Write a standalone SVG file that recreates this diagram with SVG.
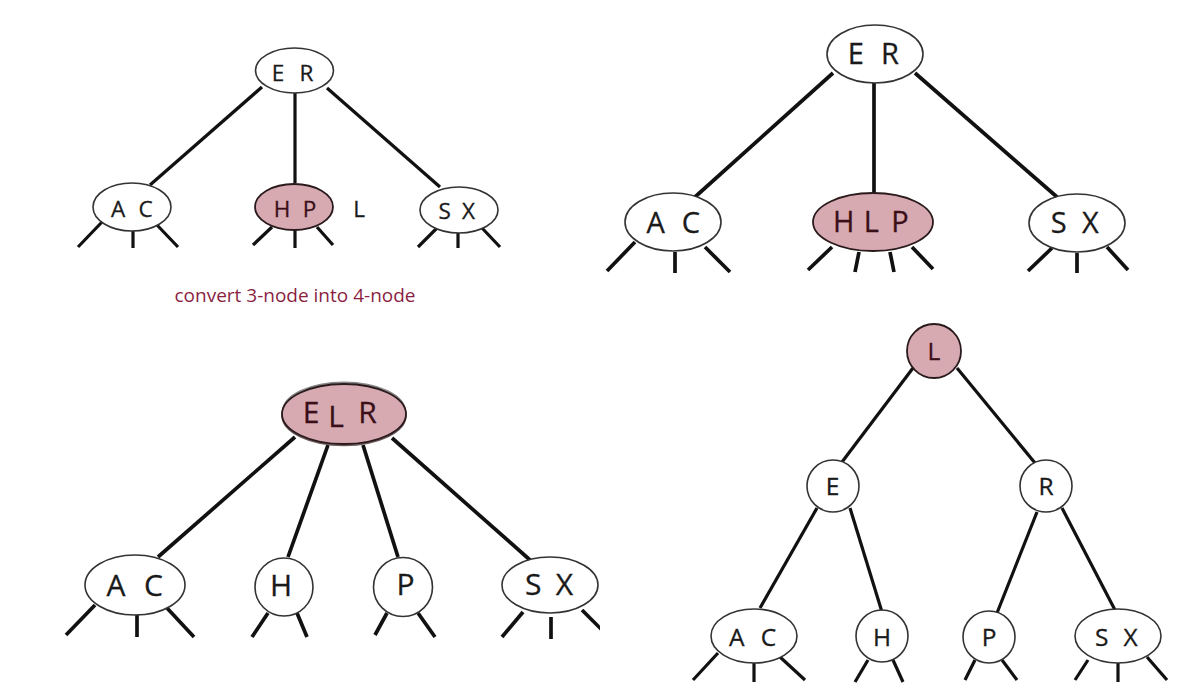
<svg xmlns="http://www.w3.org/2000/svg" width="1200" height="696" viewBox="0 0 1200 696">
<defs>
<style>
.n{fill:#fff;stroke:#333;stroke-width:1.6}
.pk{fill:#d7aab2;stroke:#2a1a1c;stroke-width:1.8}
.e{stroke:#111;stroke-linecap:butt;fill:none}
.w3{stroke-width:3.2}
.w35{stroke-width:3.7}
.t{font-family:"Open Sans","DejaVu Sans",sans-serif;fill:#1a1a1a;text-anchor:middle;stroke:#1a1a1a;stroke-width:0.3}
.tp{fill:#3a0f18;stroke:#3a0f18}
.s1{font-size:22.5px}
.s2{font-size:29px}
.s3{font-size:30px}
.s4{font-size:24.5px}
.cap{font-family:"Open Sans","DejaVu Sans",sans-serif;font-size:19px;fill:#8a1f42;text-anchor:middle}
</style>
<clipPath id="clip3"><rect x="0" y="0" width="600" height="696"/></clipPath>
</defs>
<rect width="1200" height="696" fill="#fff"/>

<g id="connectors" class="e">
  <!-- panel 1 -->
  <g class="w3">
    <line x1="262" y1="87" x2="150" y2="185"/>
    <line x1="295" y1="93" x2="295" y2="183"/>
    <line x1="327" y1="88" x2="440" y2="187"/>
    <line x1="102" y1="222" x2="78" y2="247"/>
    <line x1="133" y1="230" x2="133" y2="248"/>
    <line x1="157" y1="225" x2="178" y2="247"/>
    <line x1="272" y1="227" x2="253" y2="245"/>
    <line x1="295" y1="230" x2="295" y2="248"/>
    <line x1="317" y1="227" x2="333" y2="245"/>
    <line x1="437" y1="228" x2="418" y2="247"/>
    <line x1="458" y1="232" x2="458" y2="248"/>
    <line x1="482" y1="228" x2="500" y2="247"/>
  </g>
  <!-- panel 2 -->
  <g class="w35">
    <line x1="833" y1="73" x2="695" y2="197"/>
    <line x1="874" y1="83" x2="874" y2="193"/>
    <line x1="915" y1="73" x2="1057" y2="197"/>
    <line x1="635" y1="242" x2="607" y2="271"/>
    <line x1="675" y1="252" x2="675" y2="273"/>
    <line x1="705" y1="247" x2="730" y2="272"/>
    <line x1="832" y1="247" x2="808" y2="270"/>
    <line x1="859" y1="252" x2="855" y2="272"/>
    <line x1="890" y1="252" x2="894" y2="272"/>
    <line x1="912" y1="247" x2="933" y2="269"/>
    <line x1="1052" y1="248" x2="1028" y2="271"/>
    <line x1="1077" y1="253" x2="1077" y2="273"/>
    <line x1="1107" y1="247" x2="1128" y2="270"/>
  </g>
  <!-- panel 3 -->
  <g class="w35" clip-path="url(#clip3)">
    <line x1="295" y1="437" x2="158" y2="557"/>
    <line x1="328" y1="445" x2="288" y2="557"/>
    <line x1="363" y1="445" x2="398" y2="557"/>
    <line x1="392" y1="438" x2="530" y2="560"/>
    <line x1="95" y1="605" x2="66" y2="635"/>
    <line x1="137" y1="615" x2="137" y2="637"/>
    <line x1="167" y1="608" x2="194" y2="637"/>
    <line x1="268" y1="613" x2="252" y2="637"/>
    <line x1="297" y1="613" x2="307" y2="637"/>
    <line x1="387" y1="613" x2="375" y2="635"/>
    <line x1="418" y1="613" x2="435" y2="637"/>
    <line x1="523" y1="612" x2="502" y2="637"/>
    <line x1="551" y1="617" x2="551" y2="639"/>
    <line x1="582" y1="610" x2="606" y2="634"/>
  </g>
  <!-- panel 4 -->
  <g class="w3">
    <line x1="913" y1="368" x2="842" y2="462"/>
    <line x1="957" y1="368" x2="1035" y2="463"/>
    <line x1="817" y1="508" x2="760" y2="608"/>
    <line x1="850" y1="508" x2="882" y2="612"/>
    <line x1="1037" y1="512" x2="997" y2="613"/>
    <line x1="1062" y1="508" x2="1115" y2="610"/>
    <line x1="718" y1="653" x2="693" y2="680"/>
    <line x1="754" y1="663" x2="754" y2="682"/>
    <line x1="780" y1="657" x2="805" y2="680"/>
    <line x1="868" y1="660" x2="855" y2="682"/>
    <line x1="893" y1="660" x2="903" y2="682"/>
    <line x1="975" y1="660" x2="965" y2="680"/>
    <line x1="1002" y1="660" x2="1017" y2="680"/>
    <line x1="1088" y1="660" x2="1075" y2="680"/>
    <line x1="1118" y1="663" x2="1118" y2="682"/>
    <line x1="1147" y1="657" x2="1167" y2="680"/>
  </g>
</g>

<!-- Panel 1 -->
<g id="p1-ER"><ellipse class="n" cx="294.5" cy="70.5" rx="39" ry="22.5"/><text class="t s1" y="80.5"><tspan x="281">E</tspan> <tspan x="306.5">R</tspan></text></g>
<g id="p1-AC"><ellipse class="n" cx="132" cy="207" rx="39" ry="24"/><text class="t s1" y="217"><tspan x="121">A</tspan> <tspan x="145.5">C</tspan></text></g>
<g id="p1-HP"><ellipse class="pk" cx="294" cy="207" rx="39" ry="23"/><text class="t tp s1" y="217"><tspan x="285">H</tspan> <tspan x="309.5">P</tspan></text></g>
<g id="p1-SX"><ellipse class="n" cx="459" cy="210" rx="39" ry="23"/><text class="t s1" y="218.5"><tspan x="447.5">S</tspan> <tspan x="468.5">X</tspan></text></g>
<g id="p1-L"><text class="t s1" x="359" y="216.5">L</text></g>
<g id="p1-caption"><text class="cap" x="295" y="302">convert 3-node into 4-node</text></g>

<!-- Panel 2 -->
<g id="p2-ER"><ellipse class="n" cx="875" cy="54" rx="48" ry="29"/><text class="t s2" y="64"><tspan x="859.5">E</tspan> <tspan x="890">R</tspan></text></g>
<g id="p2-AC"><ellipse class="n" cx="673" cy="222" rx="48" ry="29"/><text class="t s2" y="233"><tspan x="659.5">A</tspan> <tspan x="691">C</tspan></text></g>
<g id="p2-HLP"><ellipse class="pk" cx="873" cy="222" rx="60" ry="29"/><text class="t tp s2" y="232"><tspan x="847.5">H</tspan> <tspan x="875">L</tspan> <tspan x="900">P</tspan></text></g>
<g id="p2-SX"><ellipse class="n" cx="1077" cy="223" rx="48" ry="29"/><text class="t s2" y="233"><tspan x="1062.5">S</tspan> <tspan x="1090.5">X</tspan></text></g>

<!-- Panel 3 -->
<g id="p3-ELR">
  <ellipse cx="344" cy="411.5" rx="61" ry="29" fill="none" stroke="#888" stroke-width="2"/>
  <ellipse cx="344" cy="415.5" rx="61.5" ry="29.5" fill="#c9a0a8" stroke="#6b5a5c" stroke-width="2.5"/>
  <ellipse class="pk" cx="344" cy="414" rx="62" ry="30"/>
  <text class="t tp s3"><tspan x="315" y="423">E</tspan> <tspan x="340" y="427">L</tspan> <tspan x="367.5" y="423">R</tspan></text>
</g>
<g id="p3-AC"><ellipse class="n" cx="135" cy="585" rx="50" ry="30"/><text class="t s3" y="596"><tspan x="120">A</tspan> <tspan x="153.5">C</tspan></text></g>
<g id="p3-H"><circle class="n" cx="284" cy="587" r="29"/><text class="t s3" x="281" y="596">H</text></g>
<g id="p3-P"><circle class="n" cx="403" cy="587" r="29.5"/><text class="t s3" x="405.5" y="595">P</text></g>
<g id="p3-SX" clip-path="url(#clip3)"><ellipse class="n" cx="550" cy="585" rx="48" ry="28"/><text class="t s3" y="595"><tspan x="537">S</tspan> <tspan x="564.5">X</tspan></text></g>

<!-- Panel 4 -->
<g id="p4-L"><circle class="pk" cx="934" cy="351" r="27"/><text class="t tp s4" x="934" y="359.5">L</text></g>
<g id="p4-E"><circle class="n" cx="833" cy="486" r="26"/><text class="t s4" x="832.5" y="494.5">E</text></g>
<g id="p4-R"><circle class="n" cx="1046" cy="486" r="26"/><text class="t s4" x="1046" y="494.5">R</text></g>
<g id="p4-AC"><ellipse class="n" cx="754" cy="636" rx="43" ry="27"/><text class="t s4" y="645.5"><tspan x="740">A</tspan> <tspan x="768.5">C</tspan></text></g>
<g id="p4-H"><circle class="n" cx="882" cy="636" r="26"/><text class="t s4" x="882" y="645.5">H</text></g>
<g id="p4-P"><circle class="n" cx="989" cy="637" r="26"/><text class="t s4" x="989" y="645.5">P</text></g>
<g id="p4-SX"><ellipse class="n" cx="1118" cy="636" rx="43" ry="27"/><text class="t s4" y="645.5"><tspan x="1105">S</tspan> <tspan x="1130.5">X</tspan></text></g>
</svg>
